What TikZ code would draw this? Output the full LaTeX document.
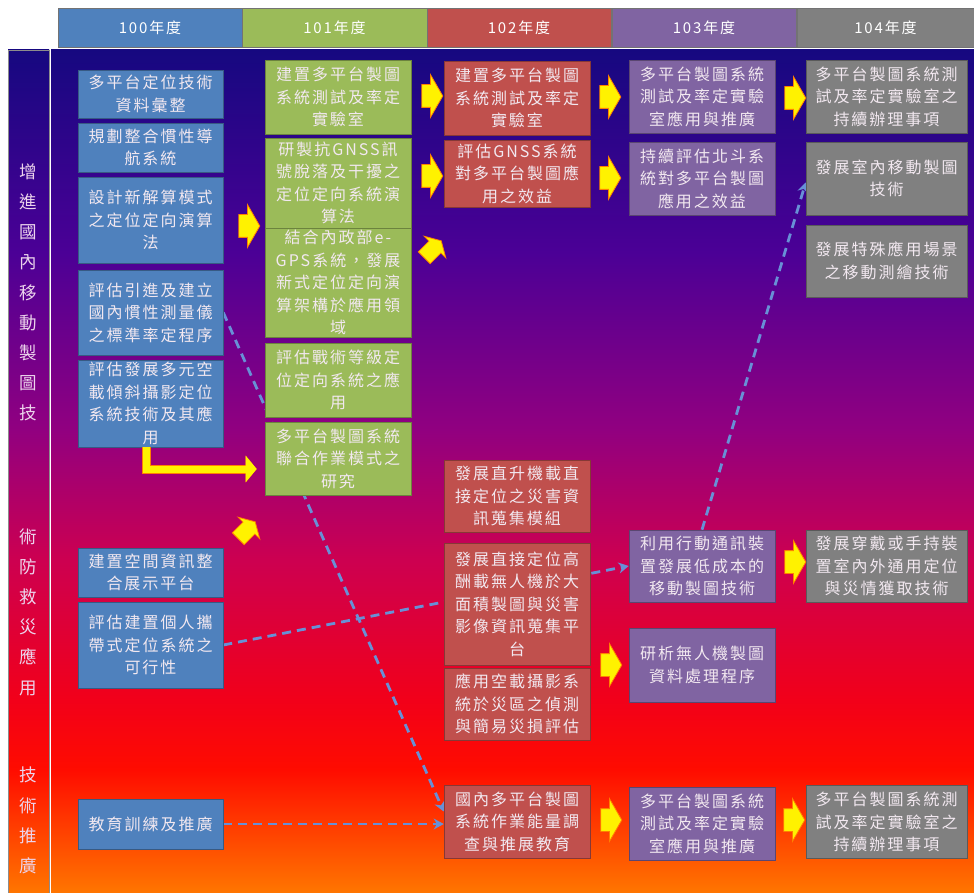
\documentclass[tikz,border=0pt]{standalone}
\usepackage{fontspec}
\usepackage{tikz}
\usetikzlibrary{positioning}
\usetikzlibrary{shapes}
\usetikzlibrary{arrows.meta}

\newfontfamily\cjk[LetterSpace=12.5]{Noto Sans CJK TC}

\definecolor{yrblue}{RGB}{79,129,189}
\definecolor{yrgreen}{RGB}{155,187,89}
\definecolor{yrred}{RGB}{192,80,77}
\definecolor{yrpurple}{RGB}{128,100,162}
\definecolor{yrgray}{RGB}{128,128,128}
\definecolor{txtwhite}{RGB}{242,232,240}
\definecolor{sidepink}{RGB}{236,212,236}
\definecolor{linkblue}{RGB}{104,144,214}
\definecolor{fadenavy}{RGB}{22,8,128}
\definecolor{fadeviolet}{RGB}{75,0,150}
\definecolor{fademagenta}{RGB}{145,0,128}
\definecolor{faderose}{RGB}{205,0,80}
\definecolor{fadecrimson}{RGB}{242,0,25}
\definecolor{fadered}{RGB}{255,12,0}
\definecolor{fadeorange}{RGB}{255,118,0}

\pgfdeclareverticalshading{panelfade}{100bp}{color(0bp)=(fadeorange); color(25bp)=(fadeorange); color(32.3bp)=(fadered); color(36.4bp)=(fadecrimson); color(44.7bp)=(faderose); color(52.5bp)=(fademagenta); color(63bp)=(fadeviolet); color(75bp)=(fadenavy); color(100bp)=(fadenavy)}

\pgfdeclarelayer{bg}
\pgfdeclarelayer{links}
\pgfsetlayers{bg,links,main}

\begin{document}
\begin{tikzpicture}[x=1pt, y=-1pt,
    cell/.style={fill=#1, draw=#1!70!black, line width=0.6pt, text=txtwhite, align=center, inner sep=0pt, font=\cjk\fontsize{16}{22.5}\selectfont},
    col1/.style={cell=yrblue, minimum width=145pt},
    col2/.style={cell=yrgreen, minimum width=146pt},
    col3/.style={cell=yrred, minimum width=146pt},
    col4/.style={cell=yrpurple, minimum width=146pt},
    col5/.style={cell=yrgray, minimum width=161pt},
    year/.style={fill=#1, draw=black!55, line width=0.5pt, text=white, inner sep=0pt, minimum height=39pt, font=\cjk\fontsize{15}{17}\selectfont},
    side/.style={text=sidepink, align=center, inner sep=0pt, font=\cjk\fontsize{17.5}{30.2}\selectfont},
    flow/.style={single arrow, fill=yellow, draw=orange, line width=0.8pt, inner xsep=0pt, inner ysep=11pt, minimum height=21pt, single arrow head extend=10pt, single arrow tip angle=120},
    tilt/.style={flow, inner ysep=8pt, minimum height=24pt, single arrow head extend=7pt, rotate=45},
    link/.style={draw=linkblue, line width=2.8pt, dash pattern=on 9pt off 6pt, -{Stealth[length=10pt,width=11pt]}}]

	\useasboundingbox (0,0) rectangle (974,893);

	\begin{pgfonlayer}{bg}
		\fill[white] (0,0) rectangle (974,893);
		\shade[shading=panelfade] (51,50) rectangle (974,893);
		\shadedraw[shading=panelfade, draw=black!45] (8,50) rectangle (49,893);
	\end{pgfonlayer}

	% year header
	\node[year=yrblue, minimum width=184pt] (y100) at (150,27.5) {100年度};
	\node[year=yrgreen, minimum width=185pt] (y101) at (334.5,27.5) {101年度};
	\node[year=yrred, minimum width=184pt] (y102) at (519,27.5) {102年度};
	\node[year=yrpurple, minimum width=184pt] (y103) at (704,27.5) {103年度};
	\node[year=yrgray, minimum width=177pt] (y104) at (885.5,27.5) {104年度};

	% side titles
	\node[side] (s1) at (28.5,292.5) {增\\進\\國\\內\\移\\動\\製\\圖\\技};
	\node[side] (s2) at (28.5,612) {術\\防\\救\\災\\應\\用};
	\node[side] (s3) at (28.5,820.5) {技\\術\\推\\廣};

	\node[col1, minimum height=48pt] (a1) at (150.5,94) {多平台定位技術\\資料彙整};
	\node[col1, minimum height=49pt] (a2) at (150.5,147.5) {規劃整合慣性導\\航系統};
	\node[col1, minimum height=86pt] (a3) at (150.5,220) {設計新解算模式\\之定位定向演算\\法};
	\node[col1, minimum height=85pt] (a4) at (150.5,312.5) {評估引進及建立\\國內慣性測量儀\\之標準率定程序};
	\node[col1, minimum height=87pt] (a5) at (150.5,403.5) {評估發展多元空\\載傾斜攝影定位\\系統技術及其應\\用};
	\node[col1, minimum height=49pt] (a6) at (150.5,572.5) {建置空間資訊整\\合展示平台};
	\node[col1, minimum height=86pt] (a7) at (150.5,645) {評估建置個人攜\\帶式定位系統之\\可行性};
	\node[col1, minimum height=50pt] (a8) at (150.5,824) {教育訓練及推廣};

	\node[col2, minimum height=74pt] (b1) at (338,97) {建置多平台製圖\\系統測試及率定\\實驗室};
	\node[col2, minimum height=90pt] (b2) at (338,183) {研製抗GNSS訊\\號脫落及干擾之\\定位定向系統演\\算法};
	\node[col2, minimum height=109pt] (b3) at (338,282.5) {結合內政部e-\\GPS系統，發展\\新式定位定向演\\算架構於應用領\\域};
	\node[col2, minimum height=74pt] (b4) at (338,380) {評估戰術等級定\\位定向系統之應\\用};
	\node[col2, minimum height=73pt] (b5) at (338,458.5) {多平台製圖系統\\聯合作業模式之\\研究};

	\node[col3, minimum height=74pt] (c1) at (517,98) {建置多平台製圖\\系統測試及率定\\實驗室};
	\node[col3, minimum height=67pt] (c2) at (517,173.5) {評估GNSS系統\\對多平台製圖應\\用之效益};
	\node[col3, minimum height=72pt] (c3) at (517,496) {發展直升機載直\\接定位之災害資\\訊蒐集模組};
	\node[col3, minimum height=122pt] (c4) at (517,604) {發展直接定位高\\酬載無人機於大\\面積製圖與災害\\影像資訊蒐集平\\台};
	\node[col3, minimum height=72pt] (c5) at (517,704) {應用空載攝影系\\統於災區之偵測\\與簡易災損評估};
	\node[col3, minimum height=73pt] (c6) at (517,821.5) {國內多平台製圖\\系統作業能量調\\查與推展教育};

	\node[col4, minimum height=73pt] (d1) at (702,96.5) {多平台製圖系統\\測試及率定實驗\\室應用與推廣};
	\node[col4, minimum height=73pt] (d2) at (702,178.5) {持續評估北斗系\\統對多平台製圖\\應用之效益};
	\node[col4, minimum height=72pt] (d3) at (702,566) {利用行動通訊裝\\置發展低成本的\\移動製圖技術};
	\node[col4, minimum height=74pt] (d4) at (702,665) {研析無人機製圖\\資料處理程序};
	\node[col4, minimum height=73pt] (d5) at (702,823.5) {多平台製圖系統\\測試及率定實驗\\室應用與推廣};

	\node[col5, minimum height=73pt] (e1) at (886.5,96.5) {多平台製圖系統測\\試及率定實驗室之\\持續辦理事項};
	\node[col5, minimum height=73pt] (e2) at (886.5,178.5) {發展室內移動製圖\\技術};
	\node[col5, minimum height=72pt] (e3) at (886.5,261) {發展特殊應用場景\\之移動測繪技術};
	\node[col5, minimum height=72pt] (e4) at (886.5,566) {發展穿戴或手持裝\\置室內外通用定位\\與災情獲取技術};
	\node[col5, minimum height=73pt] (e5) at (886.5,822) {多平台製圖系統測\\試及率定實驗室之\\持續辦理事項};

	% yellow arrows
	\node[flow] (f1) at (246,226) {};
	\node[flow] (f2) at (429,96) {};
	\node[flow] (f3) at (429,176) {};
	\node[tilt] (f4) at (431,251) {};
	\node[tilt] (f5) at (245,532) {};
	\node[flow] (f6) at (607,97) {};
	\node[flow] (f7) at (607,178) {};
	\node[flow] (f8) at (608,665) {};
	\node[flow] (f9) at (792,98) {};
	\node[flow] (f10) at (792,562) {};
	\node[flow] (f11) at (608,820) {};
	\node[flow] (f12) at (791,820) {};

	\draw[draw=yellow, line width=7pt, preaction={draw=orange, line width=9pt}, -{Triangle[length=11pt,width=26pt]}, shorten >=8pt] ([xshift=-4pt]a5.south) |- ([yshift=-10.5pt]b5.west);

	\begin{pgfonlayer}{links}
		\draw[link] (a4.east) -- ([yshift=10pt]c6.west);
		\draw[link] (a7.east) -- (d3.west);
		\draw[link] (d3.north) -- ([yshift=-4pt]e2.west);
		\draw[link] (a8.east) -- (a8.east -| c6.west);
	\end{pgfonlayer}
\end{tikzpicture}
\end{document}
